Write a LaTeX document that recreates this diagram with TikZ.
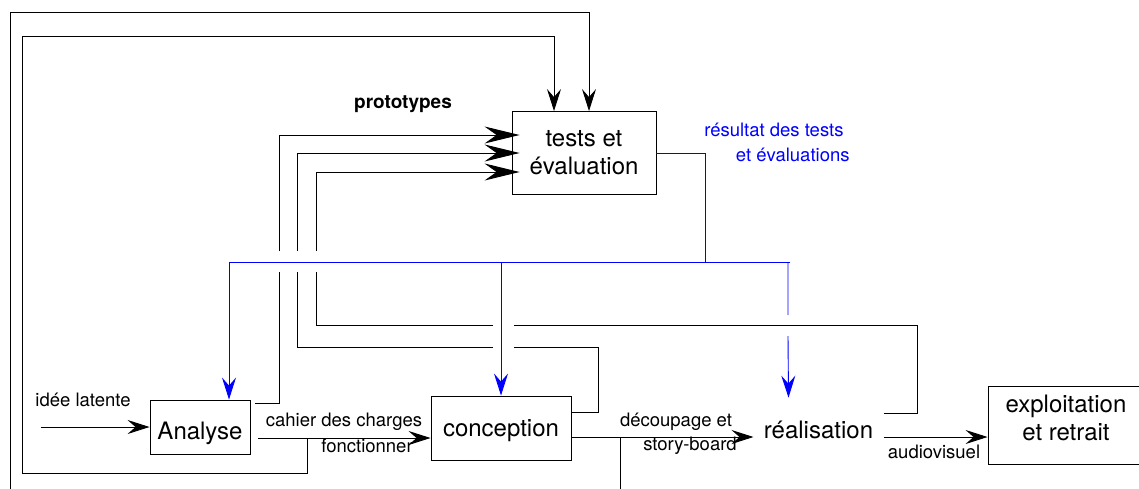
\documentclass[tikz,border=0pt]{standalone}
\usepackage{fontspec}
\setmainfont{TeX Gyre Heros}
\usetikzlibrary{arrows.meta,positioning,calc}
\definecolor{resblue}{HTML}{0000FF}

\begin{document}
\begin{tikzpicture}[x=1pt,y=-1pt,>={Stealth[length=22pt,width=14pt,inset=8pt]},
  line width=0.9pt,
  box/.style={draw,rectangle,inner sep=0pt,font=\fontsize{24}{28}\selectfont,align=center},
  lbl/.style={font=\fontsize{18.5}{24.5}\selectfont,inner sep=0pt,anchor=base},
  bigtip/.style={-{Stealth[length=35pt,width=17pt,inset=12pt]}}]
  \useasboundingbox (0,0) rectangle (1139,488);
  \clip (0,0) rectangle (1139,488);

  % the stages
  \node[box,minimum width=100pt,minimum height=54pt,text height=24pt,text depth=0pt] (analyse) at (200,427) {Analyse};
  \node[box,minimum width=140pt,minimum height=64pt,text height=16pt,text depth=0pt] (conception) at (501,428) {conception};
  \node[box,minimum width=144pt,minimum height=83pt] (tests) at (584,153) {tests et\\évaluation};
  \node[font=\fontsize{24}{28}\selectfont,inner sep=10pt] (realisation) at (818.5,430) {réalisation};
  \node[box,minimum width=156pt,minimum height=78pt,text depth=14pt] (exploit) at (1066,425) {exploitation\\et retrait};
  \coordinate (idee) at (41,427);

  % labels
  \node[lbl] (idee-lbl) at (83,406) {idée latente};
  \node[lbl] (cdc-lbl) at (344,426) {cahier des charges};
  \node[lbl] (fonct-lbl) at (367,452) {fonctionner};
  \node[lbl] (decoup-lbl) at (676,426) {découpage et};
  \node[lbl] (story-lbl) at (690,450) {story-board};
  \node[lbl] (av-lbl) at (934,458) {audiovisuel};
  \node[lbl,font=\fontsize{19}{23}\selectfont\bfseries] (proto-lbl) at (403,108) {prototypes};
  \node[lbl,anchor=north east,align=right,text=resblue] (res-lbl) at (850,123)
    {résultat des tests\hspace*{6pt}\\et évaluations};

  % main flow
  \draw[->] (idee) -- (analyse);
  \draw[->] ([shift={(8pt,-11pt)}]analyse.east) -- ([yshift=-10pt]conception.west);
  \draw[->] ([shift={(1pt,-9pt)}]conception.east) -- ([yshift=-7pt]realisation.west);
  \draw[->] ([yshift=-7pt]realisation.east) -- ([yshift=-7pt]realisation.east -| exploit.west);

  % prototypes back to the tests
  \draw[bigtip] ([shift={(5pt,24pt)}]analyse.east) -| (279,272) (279,251) |- ([shift={(8pt,18pt)}]tests.west);
  \draw[bigtip] ([yshift=16pt]conception.east) -| (598,347) -- (514,347) (493,347) -| (297,272)
    (297,251) |- ([xshift=8pt]tests.west);
  \draw[bigtip] ([yshift=17pt]realisation.east) -| (917,325) -- (514,325) (493,325) -| (316,272)
    (316,251) |- ([shift={(8pt,-19pt)}]tests.west);

  % outer loops
  \draw[->] (307,438) |- (22,473) -- (22,36) -| ([xshift=-30pt]tests.north);
  \draw[->] (620,437) -- (620,498) -| (10,12) -| ([xshift=5pt]tests.north);

  % results of the tests
  \draw[resblue] (tests.east) -| (705,262) (229,262) -- (790,262);
  \draw[resblue,->] (229,262) -- ([xshift=29pt]analyse.north);
  \draw[resblue,->] (501,262) -- (conception.north);
  \draw[resblue,->] (788,262) -- (788,315) (788,336) -- ([shift={(-30pt,13pt)}]realisation.north);
\end{tikzpicture}
\end{document}
